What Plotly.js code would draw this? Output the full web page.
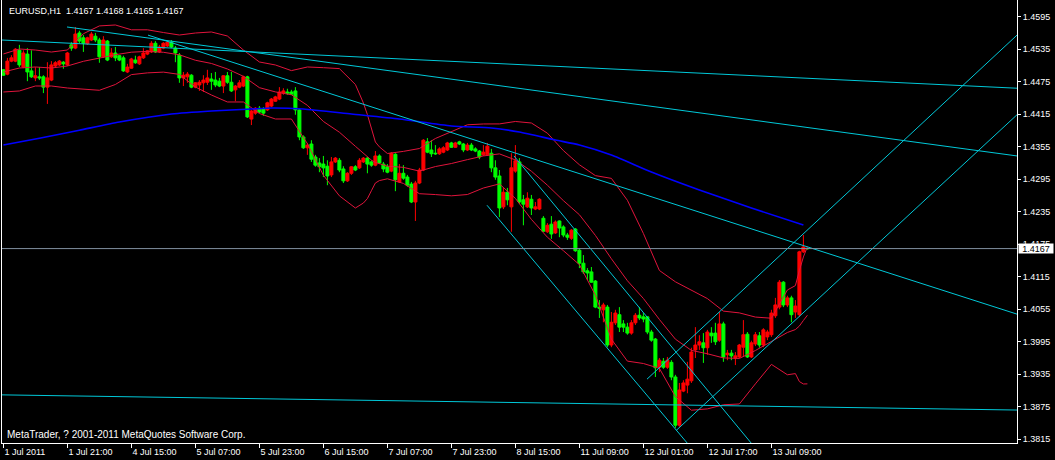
<!DOCTYPE html>
<html><head><meta charset="utf-8">
<script src="https://cdn.plot.ly/plotly-3.0.1.min.js"></script>
<style>html,body{margin:0;padding:0;background:#000;overflow:hidden}#chart{width:1055px;height:460px}</style>
</head><body><div id="chart"></div>
<script>
const symbolTitle = "EURUSD,H1";
const lastQuote = [1.4167, 1.4168, 1.4165, 1.4167];
const copyrightText = "MetaTrader, ? 2001-2011 MetaQuotes Software Corp.";
const bidPrice = 1.4167;

const open = [
1.4497,1.4489,1.4513,1.4513,1.4533,1.4502,1.4526,1.4495,1.4482,1.4484,
1.4484,1.4465,1.4478,1.4504,1.4506,1.4511,1.4506,1.4543,1.4537,1.4565,
1.4556,1.4545,1.4552,1.4559,1.4552,1.4521,1.4550,1.4521,1.4528,1.4523,
1.4519,1.4493,1.4500,1.4515,1.4508,1.4519,1.4526,1.4530,1.4546,1.4530,
1.4537,1.4541,1.4548,1.4537,1.4524,1.4482,1.4484,1.4487,1.4465,1.4469,
1.4473,1.4474,1.4480,1.4478,1.4476,1.4467,1.4486,1.4474,1.4460,1.4465,
1.4467,1.4484,1.4406,1.4417,1.4426,1.4425,1.4423,1.4430,1.4439,1.4443,
1.4454,1.4456,1.4456,1.4458,1.4423,1.4373,1.4353,1.4360,1.4336,1.4325,
1.4323,1.4319,1.4303,1.4327,1.4330,1.4314,1.4292,1.4306,1.4318,1.4316,
1.4327,1.4334,1.4327,1.4321,1.4338,1.4323,1.4318,1.4310,1.4341,1.4290,
1.4306,1.4299,1.4286,1.4253,1.4288,1.4312,1.4364,1.4349,1.4343,1.4342,
1.4345,1.4349,1.4362,1.4354,1.4364,1.4360,1.4349,1.4358,1.4351,1.4347,
1.4340,1.4340,1.4343,1.4316,1.4301,1.4244,1.4271,1.4244,1.4310,1.4327,
1.4257,1.4244,1.4258,1.4240,1.4240,1.4223,1.4198,1.4212,1.4196,1.4218,
1.4207,1.4192,1.4186,1.4203,1.4164,1.4140,1.4126,1.4124,1.4107,1.4059,
1.4054,1.4059,1.3989,1.4030,1.4045,1.4028,1.4022,1.4011,1.4030,1.4044,
1.4041,1.4041,1.4013,1.4000,1.3948,1.3959,1.3948,1.3957,1.3930,1.3841,
1.3904,1.3915,1.3923,1.3980,1.3989,1.3993,1.3984,1.4011,1.4011,1.3998,
1.4028,1.3971,1.3974,1.3965,1.3967,1.3985,1.4009,1.3967,1.3991,1.4006,
1.3989,1.4004,1.4008,1.4043,1.4059,1.4105,1.4063,1.4076,1.4050,1.4045,
1.4161,1.4167];
const high = [
1.4498,1.4519,1.4524,1.4537,1.4543,1.4533,1.4537,1.4533,1.4502,1.4502,
1.4487,1.4511,1.4513,1.4513,1.4515,1.4513,1.4530,1.4548,1.4576,1.4569,
1.4561,1.4558,1.4567,1.4565,1.4556,1.4559,1.4552,1.4537,1.4539,1.4524,
1.4523,1.4508,1.4519,1.4523,1.4523,1.4537,1.4533,1.4550,1.4550,1.4543,
1.4548,1.4550,1.4552,1.4541,1.4528,1.4493,1.4493,1.4489,1.4474,1.4478,
1.4487,1.4497,1.4491,1.4493,1.4482,1.4487,1.4493,1.4493,1.4469,1.4478,
1.4486,1.4486,1.4423,1.4428,1.4430,1.4428,1.4438,1.4445,1.4449,1.4465,
1.4463,1.4462,1.4460,1.4465,1.4426,1.4376,1.4362,1.4367,1.4340,1.4334,
1.4338,1.4330,1.4336,1.4336,1.4334,1.4319,1.4308,1.4319,1.4321,1.4334,
1.4336,1.4336,1.4330,1.4347,1.4341,1.4327,1.4323,1.4345,1.4343,1.4323,
1.4321,1.4303,1.4290,1.4292,1.4316,1.4369,1.4371,1.4367,1.4358,1.4354,
1.4356,1.4364,1.4364,1.4364,1.4366,1.4362,1.4362,1.4362,1.4354,1.4349,
1.4358,1.4362,1.4351,1.4330,1.4312,1.4279,1.4279,1.4343,1.4358,1.4334,
1.4266,1.4271,1.4266,1.4253,1.4260,1.4227,1.4214,1.4227,1.4219,1.4219,
1.4210,1.4196,1.4203,1.4205,1.4168,1.4155,1.4131,1.4133,1.4109,1.4072,
1.4067,1.4063,1.4050,1.4054,1.4059,1.4035,1.4030,1.4035,1.4048,1.4059,
1.4048,1.4042,1.4017,1.4002,1.3965,1.3965,1.3967,1.3961,1.3934,1.3919,
1.3924,1.3958,1.3984,1.4022,1.4007,1.4011,1.4017,1.4022,1.4030,1.4050,
1.4032,1.3980,1.3980,1.3976,1.3991,1.4035,1.4013,1.3997,1.4013,1.4013,
1.4020,1.4017,1.4054,1.4076,1.4109,1.4107,1.4080,1.4080,1.4072,1.4163,
1.4192,1.4168];
const low = [
1.4486,1.4487,1.4511,1.4511,1.4502,1.4500,1.4476,1.4482,1.4476,1.4478,
1.4454,1.4434,1.4476,1.4502,1.4504,1.4499,1.4504,1.4532,1.4535,1.4546,
1.4530,1.4543,1.4550,1.4548,1.4510,1.4519,1.4513,1.4519,1.4513,1.4513,
1.4493,1.4491,1.4499,1.4508,1.4506,1.4517,1.4524,1.4528,1.4528,1.4528,
1.4535,1.4539,1.4537,1.4511,1.4473,1.4467,1.4473,1.4463,1.4463,1.4458,
1.4456,1.4469,1.4460,1.4465,1.4465,1.4454,1.4471,1.4456,1.4439,1.4463,
1.4465,1.4408,1.4395,1.4414,1.4417,1.4412,1.4421,1.4428,1.4438,1.4441,
1.4451,1.4451,1.4451,1.4414,1.4367,1.4351,1.4340,1.4327,1.4318,1.4308,
1.4299,1.4284,1.4299,1.4325,1.4308,1.4288,1.4290,1.4303,1.4310,1.4314,
1.4325,1.4306,1.4318,1.4319,1.4323,1.4308,1.4306,1.4308,1.4273,1.4288,
1.4294,1.4281,1.4251,1.4218,1.4286,1.4310,1.4343,1.4336,1.4340,1.4340,
1.4343,1.4347,1.4353,1.4353,1.4358,1.4345,1.4347,1.4347,1.4345,1.4332,
1.4338,1.4338,1.4308,1.4294,1.4225,1.4240,1.4247,1.4198,1.4307,1.4249,
1.4210,1.4242,1.4229,1.4238,1.4238,1.4198,1.4196,1.4185,1.4194,1.4188,
1.4188,1.4183,1.4183,1.4161,1.4131,1.4120,1.4109,1.4104,1.4057,1.4039,
1.4031,1.3985,1.3985,1.4026,1.4013,1.4013,1.4008,1.4008,1.4026,1.4035,
1.4031,1.4009,1.3995,1.3930,1.3939,1.3945,1.3945,1.3924,1.3836,1.3838,
1.3902,1.3900,1.3919,1.3965,1.3980,1.3956,1.3971,1.3993,1.3989,1.3995,
1.3958,1.3961,1.3961,1.3952,1.3965,1.3967,1.3965,1.3965,1.3987,1.3984,
1.3985,1.3998,1.4004,1.4039,1.4055,1.4059,1.4059,1.4031,1.4039,1.4041,
1.4159,1.4165];
const close = [
1.4487,1.4513,1.4519,1.4535,1.4506,1.4528,1.4493,1.4484,1.4486,1.4482,
1.4465,1.4482,1.4506,1.4510,1.4513,1.4508,1.4528,1.4537,1.4563,1.4550,
1.4546,1.4556,1.4563,1.4552,1.4521,1.4552,1.4515,1.4528,1.4519,1.4515,
1.4495,1.4502,1.4517,1.4510,1.4521,1.4528,1.4532,1.4546,1.4530,1.4539,
1.4546,1.4548,1.4539,1.4528,1.4482,1.4487,1.4489,1.4465,1.4473,1.4474,
1.4478,1.4482,1.4476,1.4469,1.4467,1.4486,1.4474,1.4458,1.4467,1.4473,
1.4484,1.4410,1.4421,1.4426,1.4419,1.4417,1.4436,1.4443,1.4447,1.4456,
1.4458,1.4454,1.4452,1.4423,1.4373,1.4353,1.4358,1.4332,1.4321,1.4318,
1.4316,1.4301,1.4327,1.4334,1.4312,1.4292,1.4306,1.4318,1.4312,1.4330,
1.4334,1.4323,1.4321,1.4338,1.4325,1.4314,1.4308,1.4343,1.4294,1.4306,
1.4297,1.4284,1.4253,1.4288,1.4312,1.4367,1.4345,1.4342,1.4342,1.4351,
1.4353,1.4362,1.4354,1.4362,1.4360,1.4349,1.4358,1.4349,1.4347,1.4336,
1.4345,1.4356,1.4316,1.4299,1.4242,1.4271,1.4257,1.4316,1.4329,1.4253,
1.4249,1.4260,1.4242,1.4244,1.4258,1.4199,1.4210,1.4194,1.4216,1.4205,
1.4192,1.4188,1.4201,1.4163,1.4140,1.4124,1.4122,1.4105,1.4059,1.4057,
1.4063,1.3989,1.4031,1.4048,1.4022,1.4022,1.4011,1.4030,1.4044,1.4039,
1.4037,1.4013,1.3998,1.3947,1.3961,1.3948,1.3961,1.3930,1.3841,1.3906,
1.3919,1.3926,1.3976,1.3989,1.3995,1.3984,1.4013,1.4006,1.3995,1.4028,
1.3967,1.3974,1.3969,1.3969,1.3989,1.4008,1.3967,1.3993,1.4008,1.3989,
1.4017,1.4013,1.4048,1.4063,1.4105,1.4063,1.4076,1.4045,1.4061,1.4161,
1.4170,1.4167];

const tickBars = [0,16,32,48,64,80,96,112,128,144,160,176,192];
const tickLabels = ["1 Jul 2011","1 Jul 21:00","4 Jul 15:00","5 Jul 07:00","5 Jul 23:00","6 Jul 15:00","7 Jul 07:00","7 Jul 23:00","8 Jul 15:00","11 Jul 09:00","12 Jul 01:00","12 Jul 17:00","13 Jul 09:00"];
const priceTicks = [1.3815,1.3875,1.3935,1.3995,1.4055,1.4115,1.4175,1.4235,1.4295,1.4355,1.4415,1.4475,1.4535,1.4595];

const bandBars = [0,4,8,12,16,20,24,28,32,36,40,44,48,52,56,60,64,68,72,76,80,84,88,90,91,92,93,94,96,100,104,108,112,116,120,124,128,132,136,140,144,148,152,156,160,164,168,172,176,180,184,188,192,196,198,199,200,201];
const bandUpper = [1.45262,1.45354,1.45335,1.45298,1.45335,1.45636,1.45780,1.45797,1.45708,1.45708,1.45658,1.45612,1.45649,1.45668,1.45594,1.45335,1.45114,1.45059,1.44955,1.45022,1.45009,1.44992,1.44699,1.44357,1.44143,1.43868,1.43637,1.43547,1.43425,1.43464,1.43517,1.43702,1.43835,1.43955,1.43970,1.43971,1.44016,1.43988,1.43800,1.43479,1.43217,1.43017,1.42966,1.42561,1.41949,1.41266,1.41057,1.40895,1.40747,1.40516,1.40483,1.40406,1.40385,1.40906,1.40987,1.41267,1.41515,1.41705];
const bandMiddle = [1.44929,1.45003,1.45022,1.45003,1.45040,1.45127,1.45186,1.45248,1.45295,1.45310,1.45293,1.45247,1.45146,1.45087,1.44985,1.44850,1.44640,1.44562,1.44509,1.44314,1.44016,1.43818,1.43558,1.43434,1.43368,1.43303,1.43260,1.43236,1.43192,1.43169,1.43100,1.43184,1.43240,1.43312,1.43380,1.43418,1.43306,1.43098,1.42840,1.42555,1.42295,1.41913,1.41482,1.41077,1.40749,1.40362,1.39998,1.39791,1.39729,1.39652,1.39642,1.39789,1.39959,1.40122,1.40175,1.40241,1.40343,1.40439];
const bandLower = [1.44560,1.44579,1.44671,1.44671,1.44634,1.44617,1.44592,1.44699,1.44881,1.44913,1.44927,1.44885,1.44652,1.44505,1.44376,1.44376,1.44163,1.44062,1.44062,1.43606,1.43023,1.42644,1.42419,1.42511,1.42593,1.42738,1.42881,1.42925,1.42958,1.42873,1.42683,1.42667,1.42644,1.42668,1.42788,1.42864,1.42596,1.42209,1.41880,1.41631,1.41373,1.40810,1.39998,1.39593,1.39549,1.39459,1.38938,1.38687,1.38711,1.38787,1.38802,1.39173,1.39533,1.39341,1.39363,1.39215,1.39171,1.39173];

const maBars = [0,9,19,29,42,52,62,67,75,87,99,112,122,129,138,144,152,162,174,187,200];
const maValues = [1.43582,1.43708,1.43855,1.44006,1.44154,1.44210,1.44246,1.44265,1.44246,1.44154,1.44062,1.43933,1.43896,1.43822,1.43674,1.43582,1.43397,1.43083,1.42751,1.42419,1.42105];

// trend lines: [barStart, priceStart, barEnd, priceEnd]
const trendLines = [
  [-0.35, 1.4552, 253.4, 1.4463],
  [15.9, 1.4576, 253.4, 1.4338],
  [36.15, 1.4561, 253.4, 1.4046],
  [120.9, 1.4247, 174.15, 1.3780],
  [127.65, 1.4338, 191.65, 1.3766],
  [160.9, 1.3926, 253.4, 1.4561],
  [168.15, 1.3831, 253.4, 1.4414],
  [-0.35, 1.3897, 253.4, 1.3869]
];

const FONT = "Liberation Sans, Arial, sans-serif";
const bars = close.map((_, i) => i);
const traces = [];

traces.push({
  type: 'candlestick', x: bars, open: open, high: high, low: low, close: close,
  increasing: {line: {color: '#ff0000', width: 1}, fillcolor: '#ff0000'},
  decreasing: {line: {color: '#00ff00', width: 1}, fillcolor: '#00ff00'},
  whiskerwidth: 0, hoverinfo: 'skip'
});
[bandUpper, bandMiddle, bandLower].forEach(b => traces.push({
  type: 'scatter', mode: 'lines', x: bandBars, y: b,
  line: {color: '#e0143c', width: 1}, hoverinfo: 'skip'
}));
traces.push({
  type: 'scatter', mode: 'lines', x: maBars, y: maValues, line: {color: '#0000ff', width: 1.6, shape: 'spline', smoothing: 0.6}, hoverinfo: 'skip'
});
trendLines.forEach(t => traces.push({
  type: 'scatter', mode: 'lines', x: [t[0], t[2]], y: [t[1], t[3]],
  line: {color: '#00c8d8', width: 1}, hoverinfo: 'skip'
}));

const layout = {
  width: 1055, height: 460,
  margin: {l: 2, r: 38, t: 0, b: 17, pad: 0},
  paper_bgcolor: '#000', plot_bgcolor: '#000',
  showlegend: false, hovermode: false,
  boxgap: 0.25, boxgroupgap: 0,
  xaxis: {
    range: [-0.35, 253.4], tickvals: tickBars, ticktext: tickLabels,
    ticks: 'outside', ticklen: 4, tickwidth: 1, tickcolor: '#fff',
    ticklabelposition: 'outside right',
    showline: true, linecolor: '#fff', linewidth: 1,
    showgrid: false, zeroline: false,
    tickfont: {family: FONT, size: 9, color: '#fff'},
    rangeslider: {visible: false}, fixedrange: true
  },
  yaxis: {
    side: 'right', range: [1.380817, 1.462582],
    tickvals: priceTicks, ticktext: priceTicks.map(v => v.toFixed(4)),
    ticks: 'outside', ticklen: 3, tickwidth: 1, tickcolor: '#fff',
    showline: true, mirror: true, linecolor: '#fff', linewidth: 1,
    showgrid: false, zeroline: false,
    tickfont: {family: FONT, size: 9, color: '#fff'}, fixedrange: true
  },
  shapes: [{
    type: 'line', xref: 'paper', x0: 0, x1: 1, yref: 'y', y0: bidPrice, y1: bidPrice,
    line: {color: '#8090a0', width: 1}
  }],
  annotations: [
    {xref: 'paper', yref: 'paper', x: 0.005, y: 1 - 11/443, xanchor: 'left', yanchor: 'middle',
     text: symbolTitle + '\u00a0\u00a0' + lastQuote.map(v => v.toFixed(4)).join(' '), showarrow: false,
     font: {family: FONT, size: 9, color: '#fff'}},
    {xref: 'paper', yref: 'paper', x: 0.003, y: 1 - 434/443, xanchor: 'left', yanchor: 'middle',
     text: copyrightText, showarrow: false, font: {family: FONT, size: 10, color: '#fff'}},
    {xref: 'paper', x: 1, xanchor: 'left', xshift: 1, yref: 'y', y: bidPrice, yanchor: 'middle',
     text: bidPrice.toFixed(4), showarrow: false, bgcolor: '#fff', width: 34, height: 9, borderpad: 0,
     font: {family: FONT, size: 9, color: '#000'}}
  ]
};

Plotly.newPlot('chart', traces, layout, {staticPlot: true, displayModeBar: false});
</script></body></html>
